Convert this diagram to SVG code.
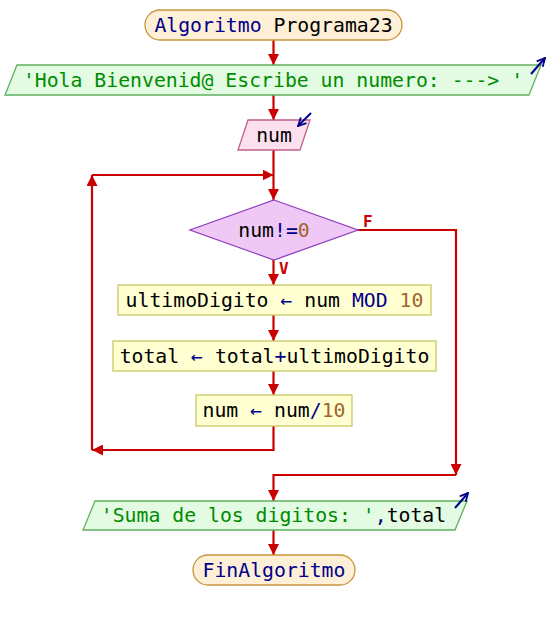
<svg xmlns="http://www.w3.org/2000/svg" width="548" height="620" viewBox="0 0 548 620">
  <style>
    text { font-family: "DejaVu Sans Mono", "Liberation Mono", monospace; font-size: 19.8px; text-anchor: middle; fill: #000; }
    .kw { fill: #00008b; }
    .str { fill: #008c00; }
    .num { fill: #a0662a; }
    .arrowch { font-size: 22px; }
    .lbl { font-size: 16px; font-weight: bold; fill: #cc0000; text-anchor: start; }
    .term { fill: #fdf0d6; stroke: #c8963c; stroke-width: 1.3; }
    .out { fill: #e2fbe2; stroke: #60b060; stroke-width: 1.3; }
    .inp { fill: #fde0ee; stroke: #c0608c; stroke-width: 1.3; }
    .cond { fill: #f0c8f6; stroke: #9040c0; stroke-width: 1.3; }
    .asg { fill: #ffffd2; stroke: #c8c864; stroke-width: 1.3; }
    .flow { fill: none; stroke: #cc0000; stroke-width: 2.2; }
    .io { fill: none; stroke: #00008b; stroke-width: 2; }
  </style>
  <defs>
    <marker id="arr" viewBox="0 0 10 10" refX="10" refY="5" markerWidth="5" markerHeight="5" orient="auto" markerUnits="strokeWidth">
      <path d="M0,0 L10,5 L0,10 Z" fill="#cc0000"/>
    </marker>
    <marker id="ioarr" viewBox="0 0 10 10" refX="9" refY="5" markerWidth="5" markerHeight="5" orient="auto" markerUnits="strokeWidth">
      <path d="M1,1 L9,5 L1,9" fill="none" stroke="#00008b" stroke-width="1.8"/>
    </marker>
  </defs>

  <!-- connectors -->
  <g id="connectors">
    <path class="flow" d="M273.5,40 V65" marker-end="url(#arr)"/>
    <path class="flow" d="M273.5,95 V120" marker-end="url(#arr)"/>
    <path class="flow" d="M273.5,150 V200" marker-end="url(#arr)"/>
    <path class="flow" d="M92,175 H273.5" marker-end="url(#arr)"/>
    <path class="flow" d="M273.5,260 V285" marker-end="url(#arr)"/>
    <path class="flow" d="M273.5,315 V341" marker-end="url(#arr)"/>
    <path class="flow" d="M273.5,371 V395" marker-end="url(#arr)"/>
    <path class="flow" d="M273.5,426 V450 H92" marker-end="url(#arr)"/>
    <path class="flow" d="M92,450 V175" marker-end="url(#arr)"/>
    <path class="flow" d="M358,230 H456 V475" marker-end="url(#arr)"/>
    <path class="flow" d="M456,475 H273.5 V501" marker-end="url(#arr)"/>
    <path class="flow" d="M273.5,530 V555" marker-end="url(#arr)"/>
    <text class="lbl" x="363" y="227">F</text>
    <text class="lbl" x="279" y="274">V</text>
  </g>

  <!-- start -->
  <g id="start">
    <rect class="term" x="145" y="10" width="257" height="30" rx="15"/>
    <text x="273.5" y="32"><tspan class="kw">Algoritmo</tspan> Programa23</text>
  </g>

  <!-- first output -->
  <g id="out1">
    <polygon class="out" points="17,65 541,65 529,95 5,95"/>
    <text x="273" y="87" class="str">'Hola Bienvenid@ Escribe un numero: ---&gt; '</text>
    <path class="io" d="M531,74 L545,58" marker-end="url(#ioarr)"/>
  </g>

  <!-- read num -->
  <g id="read">
    <polygon class="inp" points="248,120 310,120 300,150 238,150"/>
    <text x="274" y="142">num</text>
    <path class="io" d="M311,113 L298,126" marker-end="url(#ioarr)"/>
  </g>

  <!-- loop condition -->
  <g id="cond">
    <polygon class="cond" points="274,200 358,230 274,260 190,230"/>
    <text x="274" y="237">num<tspan class="kw">!=</tspan><tspan class="num">0</tspan></text>
  </g>

  <!-- loop body -->
  <g id="asg1">
    <rect class="asg" x="118" y="285" width="313" height="30"/>
    <text x="274.5" y="307">ultimoDigito <tspan class="kw">←</tspan> num <tspan class="kw">MOD</tspan> <tspan class="num">10</tspan></text>
  </g>
  <g id="asg2">
    <rect class="asg" x="113" y="341" width="323" height="30"/>
    <text x="274.5" y="363">total <tspan class="kw">←</tspan> total<tspan class="kw">+</tspan>ultimoDigito</text>
  </g>
  <g id="asg3">
    <rect class="asg" x="196" y="395" width="156" height="31"/>
    <text x="274" y="417">num <tspan class="kw">←</tspan> num<tspan class="kw">/</tspan><tspan class="num">10</tspan></text>
  </g>

  <!-- second output -->
  <g id="out2">
    <polygon class="out" points="95,501 467,501 455,530 83,530"/>
    <text x="273.5" y="522"><tspan class="str">'Suma de los digitos: '</tspan><tspan class="kw">,</tspan>total</text>
    <path class="io" d="M455,508 L468,493" marker-end="url(#ioarr)"/>
  </g>

  <!-- end -->
  <g id="end">
    <rect class="term" x="193" y="555" width="162" height="30" rx="15"/>
    <text x="274" y="577" class="kw">FinAlgoritmo</text>
  </g>
</svg>
